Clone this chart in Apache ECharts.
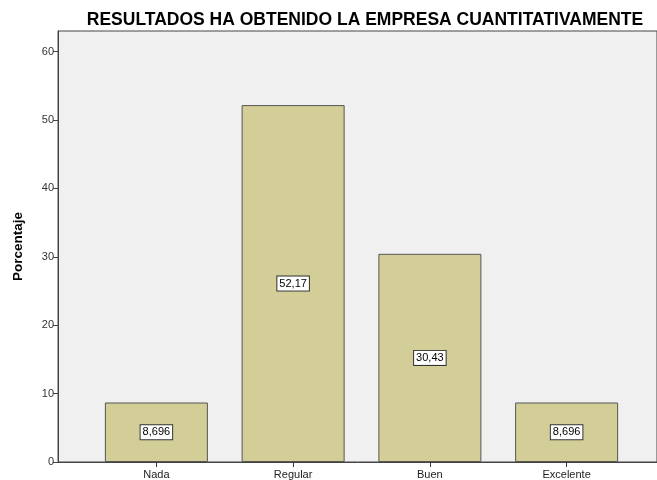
<!DOCTYPE html>
<html>
  <head>
    <meta charset="utf-8" />
    <title>Resultados</title>
    <script src="https://cdn.jsdelivr.net/npm/echarts@6/dist/echarts.min.js"></script>
  </head>
  <body style="margin:0;">
    <div id="chart" style="width: 657px; height:480px;"></div>
    <script type="text/javascript">
      var categories = ['Nada', 'Regular', 'Buen', 'Excelente'];
      var porcentaje = [8.696, 52.17, 30.43, 8.696];
      var etiquetas = ['8,696', '52,17', '30,43', '8,696'];

      var chart = echarts.init(document.getElementById('chart'));
      var option = {
        backgroundColor: '#ffffff',
        animation: false,
        textStyle: { fontFamily: 'Liberation Sans, Arial, sans-serif' },
        title: {
          text: 'RESULTADOS HA OBTENIDO LA EMPRESA CUANTITATIVAMENTE',
          left: 360,
          textAlign: 'center',
          top: 6,
          textStyle: { fontSize: 17.5, fontWeight: 'bold', color: '#000' }
        },
        grid: [
          // frame + y axis
          { left: 58, right: -3, top: 31, bottom: 18, show: true,
            backgroundColor: '#f0f0f0', borderColor: '#444', borderWidth: 1 },
          // bars
          { left: 88, right: 22, top: 31, bottom: 18 }
        ],
        xAxis: [
          { gridIndex: 0, type: 'category', data: categories,
            axisLine: { lineStyle: { color: '#444' } },
            axisTick: { show: false }, axisLabel: { show: false } },
          { gridIndex: 1, type: 'category', data: categories,
            axisLine: { show: false },
            axisTick: { show: true, alignWithLabel: true, length: 5, lineStyle: { color: '#333' } },
            axisLabel: { color: '#222', fontSize: 11, margin: 7 } }
        ],
        yAxis: [
          { gridIndex: 0, type: 'value', min: 0, max: 63, interval: 10,
            name: 'Porcentaje', nameLocation: 'middle', nameGap: 33,
            nameTextStyle: { fontSize: 13.5, fontWeight: 'bold', color: '#000' },
            axisLine: { show: true, lineStyle: { color: '#444' } },
            axisTick: { show: true, length: 5, lineStyle: { color: '#444' } },
            axisLabel: { color: '#333', fontSize: 11, margin: 4, showMaxLabel: false },
            splitLine: { show: false } },
          { gridIndex: 1, type: 'value', min: 0, max: 63, show: false,
            splitLine: { show: false } }
        ],
        series: [{
          type: 'bar',
          xAxisIndex: 1,
          yAxisIndex: 1,
          data: porcentaje,
          barWidth: 103,
          itemStyle: { color: '#d3ce97', borderColor: '#555', borderWidth: 1 },
          label: {
            show: true,
            position: 'inside',
            formatter: function (p) { return etiquetas[p.dataIndex]; },
            color: '#000',
            fontSize: 11,
            backgroundColor: '#fff',
            borderColor: '#333',
            borderWidth: 1,
            padding: [2, 2, 1, 2]
          }
        }]
      };
      chart.setOption(option);
    </script>
  </body>
</html>
